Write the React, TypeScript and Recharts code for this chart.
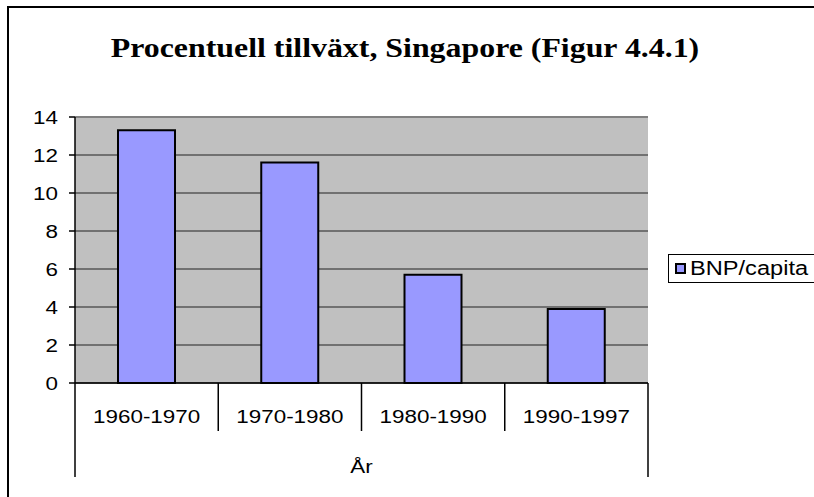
import React from 'react';
import { BarChart, Bar, XAxis, YAxis, CartesianGrid, Legend, ReferenceLine, Label } from 'recharts';

const categories = ['1960-1970', '1970-1980', '1980-1990', '1990-1997'];
const bnpPerCapita = [13.3, 11.6, 5.7, 3.9];
const yTicks = [0, 2, 4, 6, 8, 10, 12, 14];
const seriesName = 'BNP/capita';
const chartTitle = 'Procentuell tillväxt, Singapore (Figur 4.4.1)';
const axisTitle = 'År';

const data = categories.map((c, i) => ({ period: c, value: bnpPerCapita[i] }));

const SX = 1.18;
const SANS = '"Liberation Sans", Arial, sans-serif';
const SERIF = '"Liberation Serif", "Times New Roman", serif';
const BAR_FILL = '#9999FF';

function YTick(props: any) {
  const { x, y, payload } = props;
  return (
    <text
      transform={`translate(${x},${y}) scale(${SX},1)`}
      textAnchor="end"
      dy="0.36em"
      fontFamily={SANS}
      fontSize={19}
      fill="#000"
    >
      {payload.value}
    </text>
  );
}

function XTick(props: any) {
  const { x, y, payload, index, visibleTicksCount, width } = props;
  const half = payload && typeof payload.offset === 'number' && payload.offset > 0
    ? payload.offset
    : width / visibleTicksCount / 2;
  const last = index === visibleTicksCount - 1;
  return (
    <g>
      <line x1={x - half} x2={x - half} y1={y} y2={y + (index === 0 ? 94 : 48)} stroke="#000" strokeWidth={1.5} />
      {last && <line x1={x + half} x2={x + half} y1={y} y2={y + 94} stroke="#000" strokeWidth={1.5} />}
      <text
        transform={`translate(${x},${y + 33}) scale(${SX},1)`}
        textAnchor="middle"
        dy="0.36em"
        fontFamily={SANS}
        fontSize={19}
        fill="#000"
      >
        {payload.value}
      </text>
    </g>
  );
}

function AxisTitle(props: any) {
  const vb = props.viewBox || {};
  const cx = vb.x + vb.width / 2;
  const cy = vb.y + 83;
  return (
    <text
      transform={`translate(${cx},${cy}) scale(${SX},1)`}
      textAnchor="middle"
      dy="0.36em"
      fontFamily={SANS}
      fontSize={19}
      fill="#000"
    >
      {axisTitle}
    </text>
  );
}

function LegendBox() {
  return (
    <div
      style={{
        width: 170,
        height: 29,
        border: '1.5px solid #000',
        background: '#fff',
        position: 'relative',
        boxSizing: 'border-box',
      }}
    >
      <div
        style={{
          position: 'absolute',
          left: 6,
          top: 8,
          width: 11,
          height: 11,
          background: BAR_FILL,
          border: '2px solid #000',
          boxSizing: 'border-box',
        }}
      />
      <div
        style={{
          position: 'absolute',
          left: 21,
          top: 2,
          fontFamily: SANS,
          fontSize: 20,
          lineHeight: '23px',
          color: '#000',
          transform: `scaleX(${SX})`,
          transformOrigin: 'left center',
          whiteSpace: 'nowrap',
        }}
      >
        {seriesName}
      </div>
    </div>
  );
}

export default function App() {
  return (
    <div style={{ position: 'absolute', left: 0, top: 0, width: 814, height: 497, overflow: 'hidden', background: '#fff' }}>
      <div
        style={{
          position: 'absolute',
          left: 7,
          top: 6,
          width: 900,
          height: 600,
          borderLeft: '2px solid #000',
          borderTop: '2px solid #000',
        }}
      />
      <div
        style={{
          position: 'absolute',
          left: 0,
          top: 33,
          width: 810,
          textAlign: 'center',
          fontFamily: SERIF,
          fontWeight: 'bold',
          fontSize: 27,
          lineHeight: '30px',
          color: '#000',
          transform: `scaleX(${SX})`,
          transformOrigin: '405px 50%',
          whiteSpace: 'nowrap',
        }}
      >
        {chartTitle}
      </div>
      <div style={{ position: 'absolute', left: 0, top: 0 }}>
        <BarChart
          width={814}
          height={497}
          data={data}
          margin={{ top: 117, right: 166, bottom: 20, left: 8 }}
          barSize={57}
        >
          <CartesianGrid vertical={false} stroke="#222" strokeWidth={1} fill="#C0C0C0" fillOpacity={1} />
          <XAxis
            dataKey="period"
            height={94}
            interval={0}
            tickLine={false}
            tickSize={0}
            tickMargin={0}
            axisLine={{ stroke: '#000', strokeWidth: 1.5 }}
            tick={<XTick />}
          >
            <Label content={<AxisTitle />} />
          </XAxis>
          <YAxis
            width={67}
            domain={[0, 14]}
            ticks={yTicks}
            interval={0}
            tickSize={6}
            tickMargin={11}
            axisLine={{ stroke: '#000', strokeWidth: 1.5 }}
            tickLine={{ stroke: '#000', strokeWidth: 1.5 }}
            tick={<YTick />}
          />
          <YAxis
            yAxisId="r"
            orientation="right"
            width={0}
            domain={[0, 14]}
            tick={false}
            tickLine={false}
            axisLine={{ stroke: '#808080', strokeWidth: 2 }}
          />
          <ReferenceLine y={14} stroke="#808080" strokeWidth={2} />
          <Legend
            layout="vertical"
            align="center"
            verticalAlign="middle"
            content={<LegendBox />}
            wrapperStyle={{ position: 'absolute', left: 668, top: 254, width: 170, height: 29 }}
          />
          <Bar dataKey="value" name={seriesName} fill={BAR_FILL} stroke="#000" strokeWidth={2} isAnimationActive={false} />
        </BarChart>
      </div>
    </div>
  );
}
